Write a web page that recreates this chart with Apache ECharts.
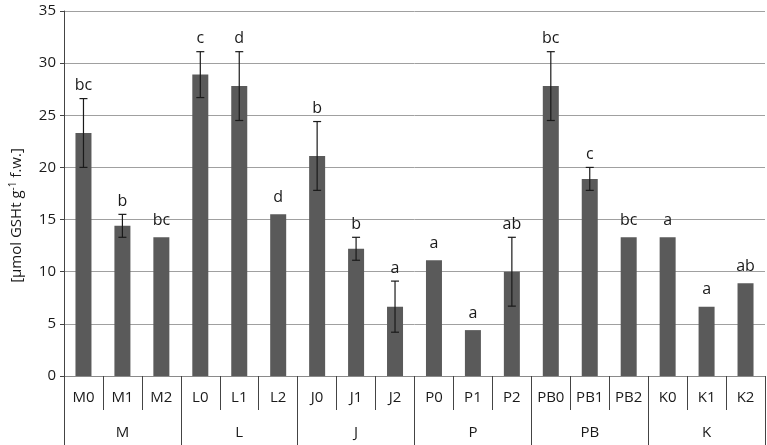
<!DOCTYPE html>
<html>
<head>
<meta charset="utf-8">
<script src="https://cdn.jsdelivr.net/npm/echarts@6/dist/echarts.min.js"></script>
<style>
html, body { margin: 0; padding: 0; background: #fff; }
#main { width: 767px; height: 445px; }
</style>
</head>
<body>
<div id="main"></div>
<script>
// data
var categories = ['M0','M1','M2','L0','L1','L2','J0','J1','J2','P0','P1','P2','PB0','PB1','PB2','K0','K1','K2'];
var groups = ['M','L','J','P','PB','K'];
var means = [23.3, 14.4, 13.3, 28.9, 27.8, 15.5, 21.1, 12.2, 6.65, 11.1, 4.4, 10.0, 27.8, 18.9, 13.3, 13.3, 6.65, 8.9];
var errors = [3.3, 1.1, 0, 2.2, 3.3, 0, 3.3, 1.1, 2.45, 0, 0, 3.3, 3.3, 1.1, 0, 0, 0, 0];
var letters = ['bc','b','bc','c','d','d','b','b','a','a','a','ab','bc','c','bc','a','a','ab'];
var yTicks = [0, 5, 10, 15, 20, 25, 30, 35];

var font = 'Open Sans';
var errData = means.map(function (m, i) { return [i, m, errors[i]]; });

var myChart = echarts.init(document.getElementById('main'));

var option = {
    animation: false,
    textStyle: { fontFamily: font, color: '#1a1a1a' },
    grid: { left: 59, right: 2, top: 11, bottom: 69 },
    xAxis: [
        {
            type: 'category',
            data: categories,
            boundaryGap: true,
            axisLine: { lineStyle: { color: '#8a8a8a' } },
            axisTick: { show: true, interval: 0, length: 34, lineStyle: { color: '#444' } },
            axisLabel: { interval: 0, margin: 14, fontSize: 15, color: '#1a1a1a', fontFamily: font }
        },
        {
            type: 'category',
            data: groups,
            position: 'bottom',
            boundaryGap: true,
            axisLine: { show: false },
            axisTick: { show: true, interval: 0, length: 69, lineStyle: { color: '#444' } },
            axisLabel: { interval: 0, margin: 49, fontSize: 15, color: '#1a1a1a', fontFamily: font }
        }
    ],
    yAxis: {
        type: 'value',
        min: yTicks[0],
        max: yTicks[yTicks.length - 1],
        interval: 5,
        name: '[µmol GSHt g{sup|-1} f.w.]',
        nameLocation: 'middle',
        nameRotate: 90,
        nameGap: 38,
        nameTextStyle: {
            fontSize: 15, color: '#1a1a1a', fontFamily: font,
            padding: [0, 44, 0, 0],
            rich: { sup: { fontSize: 10, fontFamily: font, color: '#1a1a1a', padding: [0, 0, 8, 0] } }
        },
        axisLine: { show: true, lineStyle: { color: '#444' } },
        axisTick: { show: true, length: 4, lineStyle: { color: '#444' } },
        axisLabel: { fontSize: 15, color: '#1a1a1a', margin: 8, fontFamily: font },
        splitLine: { lineStyle: { color: '#a0a0a0' } }
    },
    series: [
        {
            type: 'bar',
            data: means,
            barWidth: 16,
            itemStyle: { color: '#5a5a5a' }
        },
        {
            type: 'custom',
            data: errData,
            z: 10,
            renderItem: function (params, api) {
                var i = api.value(0);
                var m = api.value(1);
                var e = api.value(2);
                var children = [];
                var top;
                if (e > 0) {
                    var hi = api.coord([i, m + e]);
                    var lo = api.coord([i, m - e]);
                    var x = hi[0];
                    var st = { stroke: '#1a1a1a', lineWidth: 1.2 };
                    children.push({ type: 'line', shape: { x1: x, y1: hi[1], x2: x, y2: lo[1] }, style: st });
                    children.push({ type: 'line', shape: { x1: x - 4, y1: hi[1], x2: x + 4, y2: hi[1] }, style: st });
                    children.push({ type: 'line', shape: { x1: x - 4, y1: lo[1], x2: x + 4, y2: lo[1] }, style: st });
                    top = hi[1] - 5;
                } else {
                    top = api.coord([i, m])[1] - 9;
                }
                var p = api.coord([i, m]);
                children.push({
                    type: 'text',
                    style: {
                        x: p[0], y: top,
                        text: letters[params.dataIndex],
                        fill: '#1a1a1a',
                        font: '16px "' + font + '"',
                        align: 'center',
                        verticalAlign: 'bottom'
                    }
                });
                return { type: 'group', children: children };
            }
        }
    ]
};
myChart.setOption(option);
</script>
</body>
</html>
